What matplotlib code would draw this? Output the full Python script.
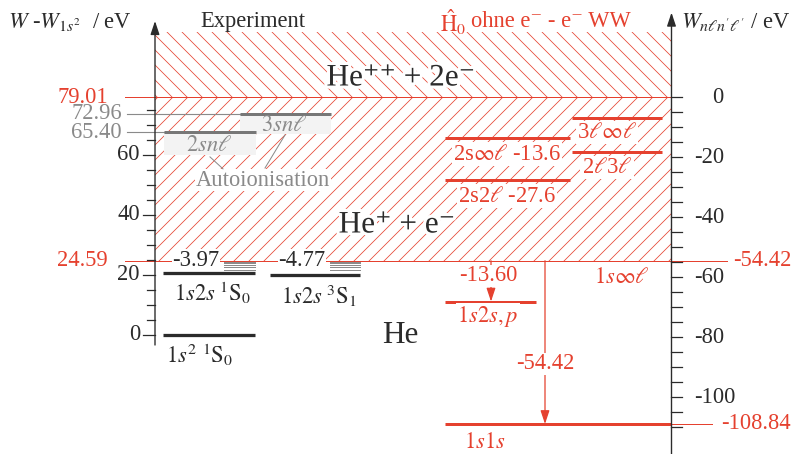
import matplotlib.pyplot as plt
import matplotlib.patheffects as pe
from matplotlib.patches import Rectangle

plt.rcParams['font.family'] = ['Liberation Serif', 'DejaVu Serif']
plt.rcParams['mathtext.fontset'] = 'stix'
plt.rcParams['hatch.linewidth'] = 0.6

RED = '#e5412f'
GRAY = '#8a8a8a'
DARK = '#2b2b2b'
FS = 18

# --- data (left scale: W - W_1s2 in eV) ---
ion_limits = [24.59, 79.01]
ion_labels = ['24.59', '79.01']
exp_levels = [0.0, 20.62, 19.82]
exp_names = [r'$1s^2\ {}^1\mathrm{S}_0$', r'$1s2s\ {}^1\mathrm{S}_0$', r'$1s2s\ {}^3\mathrm{S}_1$']
exp_gaps = ['-3.97', '-4.77']
rydberg = [21.6, 22.4, 23.2, 23.7, 24.2]
auto_levels = [67.4, 73.6]
auto_labels = ['65.40', '72.96']
auto_names = [r'$2sn\ell$', r'$3sn\ell$']

# --- data (right scale: W_nln'l' in eV, no e-e interaction) ---
offset = 79.01
h0_levels = [-108.84, -68.02, -27.6, -13.6, -18.1, -6.7]
h0_names = [r'$1s1s$', r'$1s2s,p$', r'2s2$\ell$ -27.6', r'2s$\infty\ell$ -13.6',
            r'2$\ell$3$\ell$', r'3$\ell\infty\ell$']
h0_limits = [-54.42, -108.84]
arrow_steps = [-13.60, -54.42]
right_ticks = [0, -20, -40, -60, -80, -100]

fig = plt.figure(figsize=(797 / 90, 454 / 90), dpi=90)
ax = fig.add_axes([0, 0, 1, 1])
ax.set_xlim(0, 797)
ax.set_ylim(-39.83, 111.5)
ax.axis('off')

XL, XR = 155, 671.5
top = 100.8

# hatched continua
ax.add_patch(Rectangle((XL, ion_limits[1]), XR - XL, top - ion_limits[1],
                       facecolor='none', edgecolor=RED, lw=0, hatch='\\\\', zorder=1))
ax.add_patch(Rectangle((XL, ion_limits[0]), XR - XL, ion_limits[1] - ion_limits[0],
                       facecolor='none', edgecolor=RED, lw=0, hatch='//', zorder=1))

# ionisation limits
ax.plot([125, XR], [ion_limits[1]] * 2, color=RED, lw=0.8, zorder=2)
ax.plot([125, 727], [ion_limits[0]] * 2, color=RED, lw=0.8, zorder=2)
for v, s in zip(ion_limits, ion_labels):
    ax.text(108, v, s, color=RED, fontsize=FS, ha='right', va='center')
ax.text(733, ion_limits[0], f'{h0_limits[0]:.2f}', color=RED, fontsize=FS, ha='left', va='center')

# left axis
ax.annotate('', xy=(XL, 104.5), xytext=(XL, -3.5),
            arrowprops=dict(arrowstyle='-|>,head_length=0.9,head_width=0.3', color=DARK,
                            lw=1.1, shrinkA=0, shrinkB=0, mutation_scale=10), zorder=5)
for v in range(0, 80, 5):
    major = v % 20 == 0 and v <= 60
    ax.plot([XL - (12 if major else 8), XL], [v, v], color=DARK, lw=1.0, zorder=5)
    if major:
        ax.text(140, v, str(v), fontsize=FS, ha='right', va='center', color=DARK)

# right axis
ax.annotate('', xy=(XR, 107.3), xytext=(XR, -40),
            arrowprops=dict(arrowstyle='-|>,head_length=0.9,head_width=0.3', color=DARK,
                            lw=1.1, shrinkA=0, shrinkB=0, mutation_scale=10), zorder=5)
for r in range(0, -115, -5):
    ax.plot([XR, XR + 11], [r + offset] * 2, color=DARK, lw=1.0, zorder=5)
for r in right_ticks:
    ax.text(694 if r < 0 else 712, r + offset, str(r), fontsize=FS, ha='left', va='center', color=DARK)

# experiment: bound levels
exp_x = [(163, 255), (163, 255), (270, 360)]
for i, (v, name, (x0, x1)) in enumerate(zip(exp_levels, exp_names, exp_x)):
    ax.plot([x0, x1], [v, v], color=DARK, lw=2.6, solid_capstyle='butt', zorder=4)
    if i == 0:
        ax.text(x0 + 3, v - 6.8, name, fontsize=FS, ha='left', va='center', color=DARK)
    else:
        ax.text((x0 + x1) / 2 + 4, v - 6.8, name, fontsize=FS, ha='center', va='center', color=DARK)
for gap, (x0, x1) in zip(exp_gaps, [(224, 255), (330, 360)]):
    for v in rydberg:
        ax.plot([x0, x1], [v, v], color=GRAY, lw=0.8, zorder=4)
    ax.text(x0 - 28, ion_limits[0] + 0.2, gap, fontsize=FS, ha='center', va='center', color=DARK,
            bbox=dict(facecolor='white', edgecolor='none', pad=0.5), zorder=4)

# autoionisation levels
auto_x = [(164, 256), (240, 331)]
auto_box = [7.6, 6.6]
for v, lab, name, (x0, x1), h in zip(auto_levels, auto_labels, auto_names, auto_x, auto_box):
    ax.add_patch(Rectangle((x0, v - h), x1 - x0, h, facecolor='#f3f3f3', edgecolor='none', zorder=3))
    ax.plot([127, x0], [v, v], color=GRAY, lw=0.9, zorder=3)
    ax.plot([x0, x1], [v, v], color='#777777', lw=2.4, solid_capstyle='butt', zorder=4)
    ax.text(122, v, lab, fontsize=FS, ha='right', va='center', color=GRAY)
    ax.text((x0 + x1) / 2 - 1, v - h / 2 - 0.7, name, fontsize=FS, ha='center', va='center',
            color=GRAY, zorder=4)
ax.text(263, 51.5, 'Autoionisation', fontsize=FS, ha='center', va='center', color=GRAY, zorder=4,
        bbox=dict(facecolor='white', edgecolor='none', pad=0.3))
ax.plot([210, 223], [59.2, 55.2], color=GRAY, lw=0.8, zorder=4)
ax.plot([285, 265], [66.5, 55.5], color=GRAY, lw=0.8, zorder=4)

# H0 levels (red)
h0_x = [(445, XR), (445, 536), (445, 570), (445, 570), (572, 662), (572, 662)]
h0_xc = [485, 488, 507, 507, 607, 607]
h0_dy = [6.2, 5.0, 5.3, 5.3, 5.2, 5.0]
for r, name, (x0, x1), xc, dy in zip(h0_levels, h0_names, h0_x, h0_xc, h0_dy):
    v = r + offset
    ax.plot([x0, x1], [v, v], color=RED, lw=2.4, solid_capstyle='butt', zorder=4)
    ax.text(xc, v - dy, name, fontsize=FS, ha='center', va='center', color=RED, zorder=4,
            bbox=dict(facecolor='white', edgecolor='none', pad=1.0))
ax.plot([XR, 712], [h0_limits[1] + offset] * 2, color=RED, lw=0.8, zorder=2)
ax.text(721, h0_limits[1] + offset, f'{h0_limits[1]:.2f}', color=RED, fontsize=FS, ha='left', va='center')
ax.text(621.7, h0_limits[0] + offset - 5.5, r'$1s\infty\ell$', color=RED, fontsize=FS,
        ha='center', va='center')

# transitions
for step, x, ly in zip(arrow_steps, [491, 545], [-59.5, -88.8]):
    ax.annotate('', xy=(x, h0_limits[0] + step + offset), xytext=(x, ion_limits[0]),
                arrowprops=dict(arrowstyle='-|>,head_length=0.9,head_width=0.3', color=RED,
                                lw=1.0, shrinkA=0, shrinkB=0, mutation_scale=10), zorder=3)
    ax.text(x - 3 if step > -20 else x, ly + offset, f'{step:.2f}', color=RED, fontsize=FS,
            ha='center', va='center', zorder=4,
            bbox=dict(facecolor='white', edgecolor='none', pad=0.5))

# region labels
halo = [pe.withStroke(linewidth=5, foreground='white')]
ax.text(401, 85.5, 'He⁺⁺ + 2e⁻', fontsize=25, ha='center', va='center', color=DARK,
        path_effects=halo, zorder=4)
ax.text(397, 36.5, 'He⁺ + e⁻', fontsize=25, ha='center', va='center', color=DARK,
        path_effects=halo, zorder=4)
ax.text(400, -0.2, 'He', fontsize=25, ha='center', va='center', color=DARK)

# headers
ax.text(8, 104.2, r'$W$ -$W_{1s^2}$  / eV', fontsize=FS, ha='left', va='center', color=DARK)
ax.text(253, 104.2, 'Experiment', fontsize=FS, ha='center', va='center', color=DARK)
ax.text(440, 104.2, r'$\hat{\mathrm{H}}_0$', fontsize=FS, ha='left', va='center', color=RED)
ax.text(471, 104.2, 'ohne e⁻ - e⁻ WW', fontsize=FS, ha='left', va='center', color=RED)
ax.text(681, 104.2, r"$W_{n\ell n'\ell'}$ / eV", fontsize=FS, ha='left', va='center', color=DARK)

fig.savefig('out.png', dpi=90)
